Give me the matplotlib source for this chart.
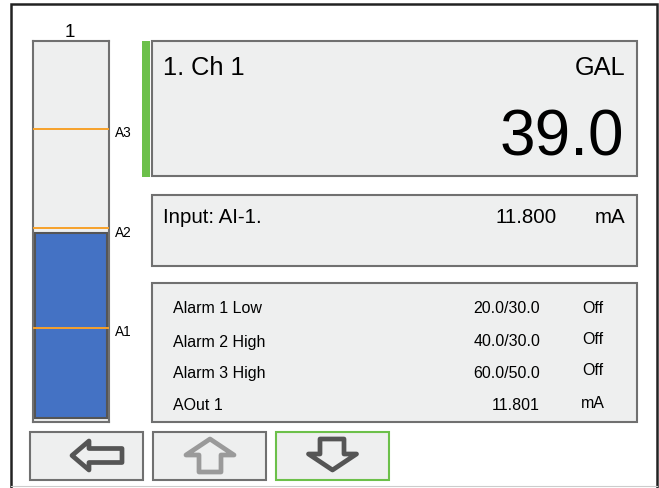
import matplotlib
matplotlib.use('Agg')
import matplotlib.pyplot as plt
import matplotlib.transforms as mtransforms
from matplotlib.patches import Rectangle, Polygon

plt.rcParams['font.family'] = ['Liberation Sans', 'DejaVu Sans']

# dados do display
gauge_title = '1'
gauge_value = 39.0
alarm_names = ['A1', 'A2', 'A3']
alarm_levels = [20.0, 40.0, 60.0]

channel_label = '1. Ch 1'
channel_unit = 'GAL'
channel_value = '39.0'

input_label = 'Input: AI-1.'
input_value = '11.800'
input_unit = 'mA'

row_labels = ['Alarm 1 Low', 'Alarm 2 High', 'Alarm 3 High', 'AOut 1']
row_values = ['20.0/30.0', '40.0/30.0', '60.0/50.0', '11.801']
row_states = ['Off', 'Off', 'Off', 'mA']

# cores
PANEL = '#eeefef'
EDGE = '#707070'
GREEN = '#6cc04a'
BLUE = '#4472c4'
ORANGE = '#f7a12a'
DARK = '#555555'

W, H = 659, 489
fig = plt.figure(figsize=(W / 100, H / 100), dpi=100)
ax = fig.add_axes([0, 0, 1, 1])
ax.set_xlim(0, W)
ax.set_ylim(H, 0)
ax.axis('off')


def caixa(x0, y0, x1, y1, ec=EDGE, fc=PANEL, lw=1.5):
    ax.add_patch(Rectangle((x0, y0), x1 - x0, y1 - y0, fc=fc, ec=ec, lw=lw))


# moldura externa
ax.plot([11, 11, 656.5, 656.5], [488, 5, 5, 488], color='#222222', lw=1.8, solid_joinstyle='miter')
ax.plot([11, 656.5], [487, 487], color='#cccccc', lw=0.8)

# titulo do medidor
ax.text(70, 37, gauge_title, fontsize=13.5, ha='center', va='baseline')

# barra verde
ax.add_patch(Rectangle((142, 42), 8, 136, fc=GREEN, ec='none'))

# painel principal
caixa(152, 42, 636.5, 177)
ax.text(163, 75, channel_label, fontsize=18.3, ha='left', va='baseline')
ax.text(625, 75, channel_unit, fontsize=18.3, ha='right', va='baseline')
ax.text(624, 155, channel_value, fontsize=46, ha='right', va='baseline')

# painel de entrada
caixa(152, 195.5, 636.5, 266.5)
ax.text(163, 223, input_label, fontsize=14.8, ha='left', va='baseline')
ax.text(557, 223, input_value, fontsize=14.8, ha='right', va='baseline')
ax.text(625, 223, input_unit, fontsize=14.8, ha='right', va='baseline')

# painel de alarmes
caixa(152, 284, 636.5, 423)
base_esq = [313, 346.5, 378, 410]
base_dir = [313, 344, 375, 407.5]
for lab, val, st, y1, y2 in zip(row_labels, row_values, row_states, base_esq, base_dir):
    ax.text(173, y1, lab, fontsize=11.5, ha='left', va='baseline')
    ax.text(540, y1, val, fontsize=11.5, ha='right', va='baseline')
    ax.text(592.5, y2, st, fontsize=11.5, ha='center', va='baseline')

# botoes
caixa(30, 433, 143, 481)
caixa(153, 433, 266, 481)
caixa(275.5, 433, 389, 481, ec=GREEN)

seta_esq = [(72, 456.5), (89, 442), (89, 449.5), (122, 449.5),
            (122, 463.5), (89, 463.5), (89, 471)]
seta_cima = [(210, 440), (234, 456), (221, 456), (221, 473),
             (199, 473), (199, 456), (186, 456)]
seta_baixo = [(320, 440), (344, 440), (344, 455), (356.5, 455),
              (332.5, 471), (308.5, 455), (320, 455)]
for pts, cor in [(seta_esq, DARK), (seta_cima, '#9a9a9a'), (seta_baixo, DARK)]:
    ax.add_patch(Polygon(pts, closed=True, fc=PANEL, ec=cor, lw=3.4, joinstyle='round'))

# medidor vertical
g_x0, g_x1, g_y0, g_y1 = 33, 109, 42, 423
gax = fig.add_axes([g_x0 / W, 1 - g_y1 / H, (g_x1 - g_x0) / W, (g_y1 - g_y0) / H])
gax.set_facecolor(PANEL)
gax.set_xlim(0, 1)
gauge_lo, gauge_hi = 1.0, 77.7
gax.set_ylim(gauge_lo, gauge_hi)
gax.set_xticks([])
gax.set_yticks([])
for s in gax.spines.values():
    s.set_color(EDGE)
    s.set_linewidth(1.5)

fundo = gauge_lo + 0.8
gax.bar(0.5, gauge_value - fundo, bottom=fundo, width=0.95, color=BLUE,
        edgecolor=DARK, linewidth=1.5, zorder=2)

trans = mtransforms.blended_transform_factory(gax.transAxes, gax.transData)
desloc = trans + mtransforms.ScaledTranslation(0, -7.5 / 100, fig.dpi_scale_trans)
for nome, nivel in zip(alarm_names, alarm_levels):
    gax.axhline(nivel, color=ORANGE, lw=1.4, zorder=3)
    gax.text(1.08, nivel, nome, transform=desloc, fontsize=9.8, ha='left',
             va='baseline', clip_on=False)

fig.savefig('out.png', dpi=100)
